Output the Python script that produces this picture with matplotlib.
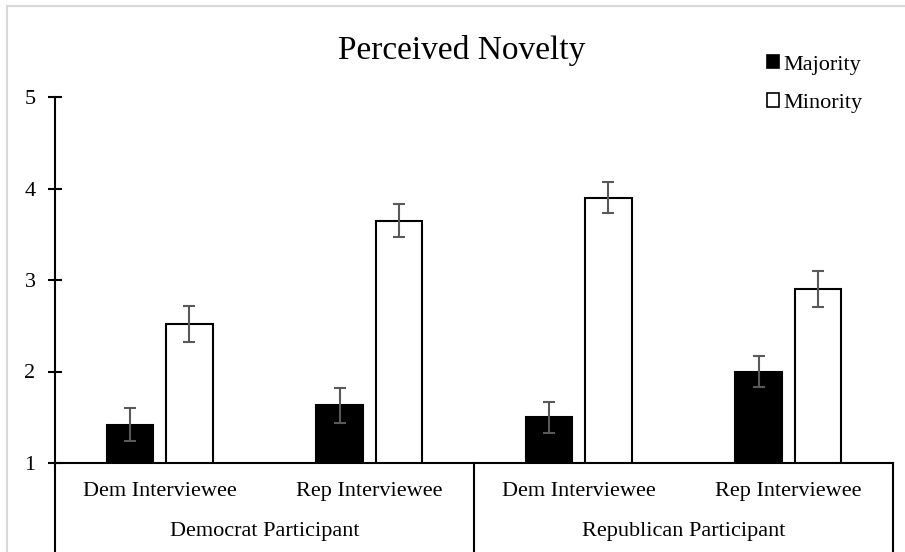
import numpy as np
import matplotlib
matplotlib.use('Agg')
import matplotlib.pyplot as plt
from matplotlib.patches import Rectangle, Patch

plt.rcParams['font.family'] = ['Liberation Serif', 'DejaVu Serif']

# ── data ──────────────────────────────────────────────
interviewees = ['Dem Interviewee', 'Rep Interviewee', 'Dem Interviewee', 'Rep Interviewee']
participants = ['Democrat Participant', 'Republican Participant']
majority = [1.42, 1.63, 1.50, 2.00]
minority = [2.52, 3.65, 3.90, 2.90]
majority_err = [0.18, 0.19, 0.17, 0.17]
minority_err = [0.20, 0.18, 0.17, 0.20]
y_ticks = [1, 2, 3, 4, 5]

fig = plt.figure(figsize=(9.05, 5.52), dpi=100)
ax = fig.add_axes([55 / 905, 89 / 552, 838 / 905, 366 / 552])

x = np.arange(len(interviewees))
w = 0.22
off = 0.142
err_kw = dict(ecolor='#595959', elinewidth=1.5, capsize=4, capthick=1.5)

ax.bar(x - off, majority, w, bottom=0, color='black', edgecolor='black', linewidth=1.5,
       yerr=majority_err, error_kw=err_kw, label='Majority')
ax.bar(x + off, minority, w, bottom=0, color='white', edgecolor='black', linewidth=1.5,
       yerr=minority_err, error_kw=err_kw, label='Minority')

ax.set_xlim(-0.5, len(interviewees) - 0.5)
ax.set_ylim(1, 5)
ax.set_yticks(y_ticks)
ax.set_yticklabels([str(t) for t in y_ticks], fontsize=16)
ax.tick_params(axis='y', direction='inout', length=10, width=1.5, pad=9)
ax.set_xticks([])

for s in ['top', 'right']:
    ax.spines[s].set_visible(False)
for s in ['left', 'bottom']:
    ax.spines[s].set_linewidth(1.5)

# category labels and group separators below the axis
for i, lab in enumerate(interviewees):
    ax.text(i, 0.69, lab, ha='center', va='center', fontsize=16)
for j, lab in enumerate(participants):
    ax.text(2 * j + 0.5, 0.25, lab, ha='center', va='center', fontsize=16)
for xv in [-0.5, 1.5, 3.5]:
    ax.plot([xv, xv], [1, -0.2], color='black', lw=1.5, clip_on=False)

fig.text(462 / 905, 1 - 50 / 552, 'Perceived Novelty', ha='center', va='center', fontsize=24)

fig.legend(handles=[Patch(facecolor='black', edgecolor='black', linewidth=1.2),
                    Patch(facecolor='white', edgecolor='black', linewidth=1.2)],
           labels=['Majority', 'Minority'], loc='center left',
           bbox_to_anchor=(767 / 905, 1 - 84 / 552), frameon=False, fontsize=16,
           borderpad=0, borderaxespad=0,
           handlelength=0.55, handleheight=0.55, handletextpad=0.2, labelspacing=0.85)

# light chart border
fig.add_artist(Rectangle((7 / 905, -0.1), 1.2, 1.09, transform=fig.transFigure,
                         fill=False, edgecolor='#d9d9d9', linewidth=1.5))

fig.savefig('out.png', dpi=100)
